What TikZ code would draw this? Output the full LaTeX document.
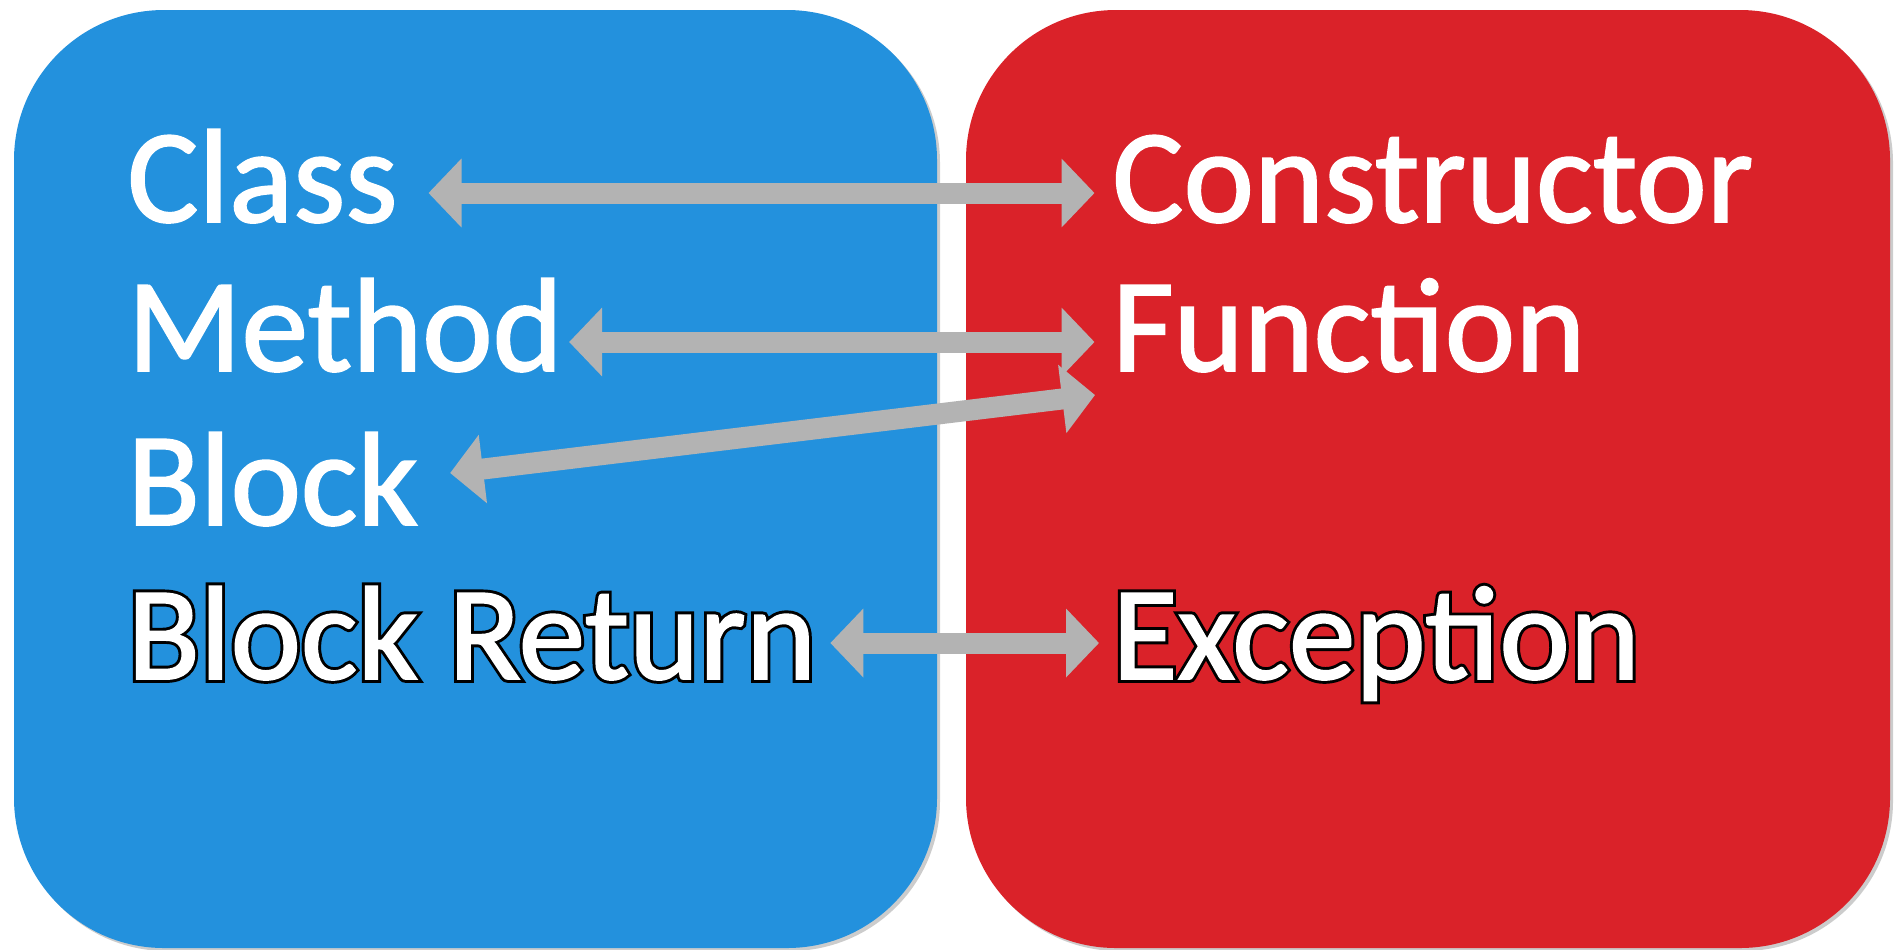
\documentclass[tikz,border=0pt]{standalone}
\usepackage{fontspec}
\setmainfont{Carlito}
\newfontfamily\wordfont{Carlito}[FakeBold=1.4]
\newfontfamily\rimfont{Carlito}[FakeBold=5.8]
\usetikzlibrary{arrows.meta}

\definecolor{boxblue}{RGB}{35,145,221}
\definecolor{boxred}{RGB}{218,34,41}
\definecolor{arrowgray}{RGB}{179,179,179}

\begin{document}
\begin{tikzpicture}[
  word/.style={anchor=base west, inner sep=0pt, text=white, font=\wordfont\fontsize{76}{90}\selectfont},
  rim/.style={anchor=base west, inner sep=0pt, text=black, font=\rimfont\fontsize{76}{90}\selectfont},
  link/.style={arrowgray, line width=0.42cm, {Triangle[length=0.66cm,width=1.34cm]}-{Triangle[length=0.66cm,width=1.34cm]}}]
\useasboundingbox (0,0) rectangle (37.88,-18.98);
% the two boxes
\fill[black!20, rounded corners=3cm] (0.34,-0.26) rectangle (18.80,-19.02);
\fill[black!20, rounded corners=3cm] (19.38,-0.26) rectangle (37.86,-19.02);
\fill[boxblue, rounded corners=3cm] (0.28,-0.2) rectangle (18.74,-18.96);
\fill[boxred, rounded corners=3cm] (19.32,-0.2) rectangle (37.8,-18.96);
% words
\node[word] (class) at (2.54,-4.44) {Class};
\node[word] (method) at (2.54,-7.42) {Method};
\node[word] (block) at (2.54,-10.50) {Block};
\node[rim] (bretrim) at (2.54,-13.58) {Block Return};
\node[word] (bret) at (2.54,-13.58) {Block Return};
\node[word] (ctor) at (22.24,-4.44) {Constructor};
\node[word] (func) at (22.24,-7.42) {Function};
\node[rim] (excrim) at (22.24,-13.58) {Exception};
\node[word] (exc) at (22.24,-13.58) {Exception};
% arrows
\draw[link] ([xshift=0.61cm,yshift=0.58cm]class.base east) -- ([xshift=-0.35cm,yshift=0.58cm]ctor.base west);
\draw[link] ([xshift=0.12cm,yshift=0.58cm]method.base east) -- ([xshift=-0.35cm,yshift=0.58cm]func.base west);
\draw[link] ([xshift=0.63cm,yshift=1.04cm]block.base east) -- ([xshift=-0.34cm,yshift=-0.48cm]func.base west);
\draw[link] ([xshift=0.28cm,yshift=0.72cm]bret.base east) -- ([xshift=-0.26cm,yshift=0.72cm]exc.base west);
\end{tikzpicture}
\end{document}
